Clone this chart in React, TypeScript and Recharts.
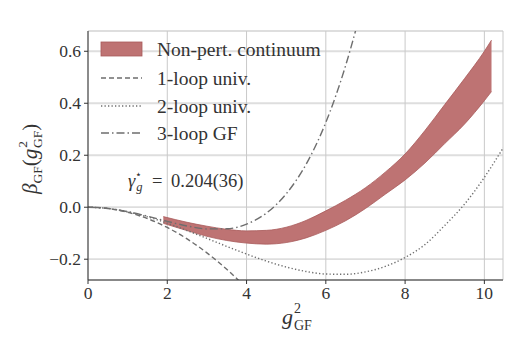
import React from "react";
import {
  ComposedChart,
  Line,
  Area,
  XAxis,
  YAxis,
  CartesianGrid,
} from "recharts";

// ---- data ----
const xTicks = [0, 2, 4, 6, 8, 10];
const yTicks = [-0.2, 0, 0.2, 0.4, 0.6];

const bandX = [1.9, 2.5, 3, 3.5, 4, 4.5, 5, 5.5, 6, 6.5, 7, 7.5, 8, 8.5, 9, 9.5, 10, 10.18];
const bandLow = [-0.062, -0.09, -0.112, -0.128, -0.138, -0.142, -0.136, -0.118, -0.089, -0.052, -0.005, 0.05, 0.105, 0.17, 0.245, 0.32, 0.41, 0.445];
const bandHigh = [-0.036, -0.058, -0.073, -0.085, -0.091, -0.089, -0.077, -0.051, -0.014, 0.027, 0.075, 0.135, 0.205, 0.295, 0.395, 0.495, 0.6, 0.643];

const oneLoopX = [0, 0.25, 0.5, 0.75, 1, 1.25, 1.5, 1.75, 2, 2.25, 2.5, 2.75, 3, 3.25, 3.5, 3.75, 4];
const oneLoopY = [0, -0.0012, -0.0049, -0.011, -0.0195, -0.0305, -0.0439, -0.0597, -0.078, -0.0987, -0.1219, -0.1475, -0.1755, -0.206, -0.2389, -0.274, -0.312];

const twoLoopX = [0, 0.5, 1, 1.5, 2, 2.5, 3, 3.5, 4, 4.5, 5, 5.5, 6, 6.5, 7, 7.5, 8, 8.5, 9, 9.5, 10, 10.5];
const twoLoopY = [0, -0.0046, -0.0174, -0.0369, -0.0615, -0.0897, -0.1199, -0.1506, -0.1802, -0.2072, -0.23, -0.2472, -0.257, -0.2581, -0.2489, -0.2278, -0.1933, -0.1438, -0.07, 0.012, 0.115, 0.2348];

const threeLoopX = [0, 0.5, 1, 1.5, 2, 2.5, 3, 3.5, 4, 4.5, 5, 5.5, 6, 6.5, 6.75, 7];
const threeLoopY = [0, -0.0046, -0.017, -0.0346, -0.0543, -0.0721, -0.0835, -0.0831, -0.065, -0.0227, 0.0513, 0.1645, 0.3262, 0.5452, 0.679, 0.8316];

const bandData = bandX.map((x, i) => ({ x, range: [bandLow[i], bandHigh[i]] }));
const oneLoopData = oneLoopX.map((x, i) => ({ x, y: oneLoopY[i] }));
const twoLoopData = twoLoopX.map((x, i) => ({ x, y: twoLoopY[i] }));
const threeLoopData = threeLoopX.map((x, i) => ({ x, y: threeLoopY[i] }));

const W = 526;
const H = 341;
const FONT = "Liberation Serif";
const TXT = "#333";
const LINE = "#6e6e6e";
const BAND_FILL = "#be7373";
const BAND_STROKE = "#a85a5a";

const fmtY = (v: number) => {
  const s = Math.abs(v).toFixed(1);
  return v < 0 ? "\u2212" + s : s;
};

const tickStyle = { fill: TXT, fontSize: 17.5, fontFamily: FONT };

export default function App() {
  return (
    <div
      style={{
        position: "absolute",
        left: 0,
        top: 0,
        width: W,
        height: H,
        background: "#fff",
      }}
    >
      <ComposedChart
        width={W}
        height={H}
        margin={{ top: 31, right: 23, left: 0, bottom: 0 }}
      >
        <CartesianGrid horizontal={true} vertical={false} stroke="#dedede" strokeWidth={1.8} />
        <CartesianGrid horizontal={false} vertical={true} stroke="#c9c9c9" strokeWidth={1} />
        <XAxis
          dataKey="x"
          type="number"
          domain={[0, 10.47]}
          ticks={xTicks}
          allowDataOverflow
          height={61}
          stroke="#333"
          tickLine={{ stroke: "#333" }}
          tickSize={4}
          tick={tickStyle}
          tickMargin={3}
          interval={0}
        />
        <XAxis
          xAxisId="top"
          orientation="top"
          dataKey="x"
          type="number"
          domain={[0, 10.47]}
          allowDataOverflow
          height={0}
          stroke="#333"
          tick={false}
          tickLine={false}
        />
        <YAxis
          type="number"
          domain={[-0.28, 0.678]}
          ticks={yTicks}
          allowDataOverflow
          width={88}
          stroke="#333"
          tickSize={4}
          tickMargin={3}
          tickFormatter={fmtY}
          tick={tickStyle}
          interval={0}
        />
        <YAxis
          yAxisId="right"
          orientation="right"
          type="number"
          domain={[-0.28, 0.678]}
          allowDataOverflow
          width={0}
          stroke="#333"
          tick={false}
          tickLine={false}
        />
        <Area
          data={bandData}
          dataKey="range"
          type="monotone"
          fill={BAND_FILL}
          fillOpacity={1}
          stroke={BAND_STROKE}
          strokeWidth={0.8}
          isAnimationActive={false}
          dot={false}
          activeDot={false}
        />
        <Line
          data={oneLoopData}
          dataKey="y"
          type="monotone"
          stroke={LINE}
          strokeWidth={1.4}
          strokeDasharray="5 3"
          dot={false}
          activeDot={false}
          isAnimationActive={false}
        />
        <Line
          data={twoLoopData}
          dataKey="y"
          type="monotone"
          stroke={LINE}
          strokeWidth={1.4}
          strokeDasharray="1.3 2.2"
          dot={false}
          activeDot={false}
          isAnimationActive={false}
        />
        <Line
          data={threeLoopData}
          dataKey="y"
          type="monotone"
          stroke={LINE}
          strokeWidth={1.4}
          strokeDasharray="8 3 1.5 3"
          dot={false}
          activeDot={false}
          isAnimationActive={false}
        />
      </ComposedChart>
      <svg
        width={W}
        height={H}
        style={{ position: "absolute", left: 0, top: 0, pointerEvents: "none" }}
      >
        {/* legend */}
        <rect x={101} y={42} width={41} height={14} fill={BAND_FILL} stroke={BAND_STROKE} strokeWidth={0.8} />
        <text x={157} y={56} fontSize={19.5} fontFamily={FONT} fill={TXT}>Non-pert. continuum</text>
        <line x1={101} x2={142} y1={78} y2={78} stroke={LINE} strokeWidth={1.4} strokeDasharray="5 3" />
        <text x={157} y={85} fontSize={19.5} fontFamily={FONT} fill={TXT}>1-loop univ.</text>
        <line x1={101} x2={142} y1={106} y2={106} stroke={LINE} strokeWidth={1.4} strokeDasharray="1.3 2.2" />
        <text x={157} y={113} fontSize={19.5} fontFamily={FONT} fill={TXT}>2-loop univ.</text>
        <line x1={101} x2={142} y1={133} y2={133} stroke={LINE} strokeWidth={1.4} strokeDasharray="8 3 1.5 3" />
        <text x={157} y={140} fontSize={19.5} fontFamily={FONT} fill={TXT}>3-loop GF</text>

        {/* annotation */}
        <text x={128} y={187} fontSize={18.5} fontFamily={FONT} fill={TXT}>
          <tspan fontStyle="italic">γ</tspan>
          <tspan fontSize={11} dy={-9}>⋆</tspan>
          <tspan fontSize={12.5} fontStyle="italic" dx={-6} dy={13}>g</tspan>
          <tspan x={152} dy={-4}>=</tspan>
          <tspan x={171}>0.204(36)</tspan>
        </text>

        {/* x label */}
        <text x={282} y={324} fontSize={22} fontFamily={FONT} fill={TXT}>
          <tspan fontStyle="italic">g</tspan>
          <tspan fontSize={14} dx={1} dy={-11}>2</tspan>
          <tspan fontSize={14} dx={-7} dy={17}>GF</tspan>
        </text>

        {/* y label */}
        <text transform="translate(37,194) rotate(-90)" fontSize={21} fontFamily={FONT} fill={TXT}>
          <tspan fontStyle="italic">β</tspan>
          <tspan fontSize={13.5} dy={5}>GF</tspan>
          <tspan dy={-5}>(</tspan>
          <tspan fontStyle="italic">g</tspan>
          <tspan fontSize={13.5} dx={1} dy={-10}>2</tspan>
          <tspan fontSize={13.5} dx={-7} dy={15}>GF</tspan>
          <tspan dy={-5}>)</tspan>
        </text>
      </svg>
    </div>
  );
}
